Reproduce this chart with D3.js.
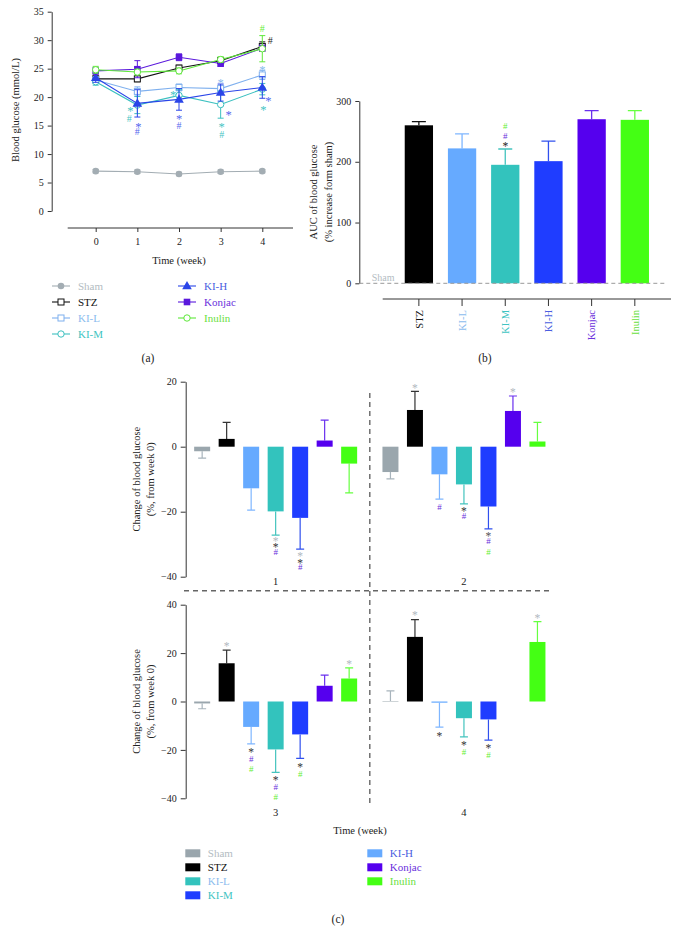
<!DOCTYPE html>
<html><head><meta charset="utf-8">
<script src="https://cdn.jsdelivr.net/npm/d3@7"></script>
<style>body{margin:0;background:#fff} svg, svg text{font-family:"Liberation Serif","DejaVu Serif",serif !important}</style>
</head><body><svg id="c" width="680" height="945"></svg>
<script>
// ---------- DATA ----------
const weeks = [0, 1, 2, 3, 4];
const groupNames = ["Sham", "STZ", "KI-L", "KI-M", "KI-H", "Konjac", "Inulin"];
// panel (a): blood glucose (mmol/L)
const glucoseSham   = [7.0, 6.9, 6.5, 6.9, 7.0];
const glucoseSTZ    = [23.2, 23.2, 25.1, 26.4, 28.9];
const glucoseKIL    = [23.0, 21.0, 21.7, 21.5, 23.9];
const glucoseKIM    = [22.7, 18.6, 20.3, 18.7, 21.4];
const glucoseKIH    = [23.4, 18.9, 19.6, 20.8, 21.7];
const glucoseKonjac = [24.6, 24.9, 27.0, 25.9, 28.6];
const glucoseInulin = [24.8, 24.4, 24.6, 26.6, 28.5];
const semSham   = [0.3, 0.3, 0.3, 0.3, 0.3];
const semSTZ    = [0.5, 0.5, 0.5, 0.5, 0.8];
const semKIL    = [0.6, 0.8, 0.6, 0.6, 0.8];
const semKIM    = [0.6, 1.5, 1.0, 2.4, 1.0];
const semKIH    = [0.8, 2.4, 1.9, 1.5, 1.9];
const semKonjac = [0.6, 1.5, 0.6, 0.5, 0.5];
const semInulin = [0.6, 0.5, 0.5, 0.5, 2.3];
const annotA = [
  {week:1, v:18.0, t:"*", c:"#44c4c4", dx:-7},
  {week:1, v:16.3, t:"#", c:"#44c4c4", dx:-8},
  {week:1, v:15.3, t:"*", c:"#5566ee", dx:1},
  {week:1, v:13.9, t:"#", c:"#5566ee", dx:0},
  {week:2, v:20.8, t:"*", c:"#44c4c4", dx:-6},
  {week:2, v:16.7, t:"*", c:"#5566ee", dx:0},
  {week:2, v:15.1, t:"#", c:"#5566ee", dx:0},
  {week:3, v:23.0, t:"*", c:"#88bbee", dx:0},
  {week:3, v:17.3, t:"*", c:"#5566ee", dx:8},
  {week:3, v:15.3, t:"*", c:"#44c4c4", dx:1},
  {week:3, v:13.5, t:"#", c:"#44c4c4", dx:1},
  {week:4, v:32.0, t:"#", c:"#66ee33", dx:0},
  {week:4, v:29.9, t:"#", c:"#222", dx:8},
  {week:4, v:25.2, t:"*", c:"#88bbee", dx:0},
  {week:4, v:19.8, t:"*", c:"#5566ee", dx:6},
  {week:4, v:18.2, t:"*", c:"#44c4c4", dx:1}
];
// panel (b): AUC
const aucGroups = ["STZ", "KI-L", "KI-M", "KI-H", "Konjac", "Inulin"];
const aucValues = [260, 222, 195, 201, 270, 269];
const aucErr    = [6, 24, 26, 33, 14, 15];
const annotB = [
  {g:"KI-M", v:230, t:"*", c:"#222"},
  {g:"KI-M", v:243, t:"#", c:"#6a30dc"},
  {g:"KI-M", v:259, t:"#", c:"#66ee33"}
];
// panel (c): change from week 0 (%), weeks 1..4
const periods = ["1", "2", "3", "4"];
const changeSham   = [-1.4, -7.8, -0.8, 0.2];
const changeSTZ    = [2.4, 11.3, 15.8, 26.7];
const changeKIL    = [-12.8, -8.5, -10.5, -0.5];
const changeKIM    = [-19.9, -11.6, -19.8, -6.9];
const changeKIH    = [-21.9, -18.4, -13.6, -7.4];
const changeKonjac = [1.9, 11.0, 6.5, null];
const changeInulin = [-5.2, 1.6, 9.5, 24.6];
const errSham   = [2.1, 2.1, 2.2, 4.2];
const errSTZ    = [5.1, 5.7, 5.4, 7.1];
const errKIL    = [6.7, 7.6, 7.0, 10.1];
const errKIM    = [7.3, 6.0, 9.5, 7.7];
const errKIH    = [9.6, 6.9, 9.9, 8.6];
const errKonjac = [6.3, 4.6, 4.4, null];
const errInulin = [9.0, 5.9, 4.4, 8.4];
const annotC = [
  {p:"1", g:"KI-M", v:-28.3, t:"*", c:"#b0b8c0"},
  {p:"1", g:"KI-M", v:-30.2, t:"*", c:"#333"},
  {p:"1", g:"KI-M", v:-32.4, t:"#", c:"#6a30dc"},
  {p:"1", g:"KI-H", v:-32.9, t:"*", c:"#b0b8c0"},
  {p:"1", g:"KI-H", v:-35.0, t:"*", c:"#333"},
  {p:"1", g:"KI-H", v:-37.0, t:"#", c:"#6a30dc"},
  {p:"2", g:"STZ", v:18.8, t:"*", c:"#b0b8c0"},
  {p:"2", g:"KI-L", v:-18.4, t:"#", c:"#6a30dc"},
  {p:"2", g:"KI-M", v:-19.0, t:"*", c:"#333"},
  {p:"2", g:"KI-M", v:-21.2, t:"#", c:"#6a30dc"},
  {p:"2", g:"KI-H", v:-26.8, t:"*", c:"#555"},
  {p:"2", g:"KI-H", v:-29.1, t:"#", c:"#6a30dc"},
  {p:"2", g:"KI-H", v:-32.2, t:"#", c:"#66ee33"},
  {p:"2", g:"Konjac", v:17.7, t:"*", c:"#b0b8c0"},
  {p:"3", g:"STZ", v:23.9, t:"*", c:"#b0b8c0"},
  {p:"3", g:"KI-L", v:-19.8, t:"*", c:"#333"},
  {p:"3", g:"KI-L", v:-23.5, t:"#", c:"#6a30dc"},
  {p:"3", g:"KI-L", v:-27.9, t:"#", c:"#66ee33"},
  {p:"3", g:"KI-M", v:-31.5, t:"*", c:"#333"},
  {p:"3", g:"KI-M", v:-35.4, t:"#", c:"#6a30dc"},
  {p:"3", g:"KI-M", v:-39.6, t:"#", c:"#66ee33"},
  {p:"3", g:"KI-H", v:-26.1, t:"*", c:"#333"},
  {p:"3", g:"KI-H", v:-29.8, t:"#", c:"#66ee33"},
  {p:"3", g:"Inulin", v:16.4, t:"*", c:"#b0b8c0"},
  {p:"4", g:"STZ", v:36.6, t:"*", c:"#b0b8c0"},
  {p:"4", g:"KI-L", v:-13.3, t:"*", c:"#333"},
  {p:"4", g:"KI-M", v:-16.9, t:"*", c:"#333"},
  {p:"4", g:"KI-M", v:-20.6, t:"#", c:"#66ee33"},
  {p:"4", g:"KI-H", v:-18.3, t:"*", c:"#333"},
  {p:"4", g:"KI-H", v:-21.9, t:"#", c:"#66ee33"},
  {p:"4", g:"Inulin", v:35.6, t:"*", c:"#b0b8c0"}
];
const legendCSwatch = ["#9aa6ad", "#000000", "#33c3bd", "#1f3dff", "#66aaff", "#5500ee", "#44ff14"];

// ---------- STYLE ----------
const FONT = "'Liberation Serif', 'DejaVu Serif', serif";
const lineColor = {"Sham":"#a3adb3","STZ":"#111111","KI-L":"#7fb0ee","KI-M":"#3cc0c0","KI-H":"#2a45e8","Konjac":"#5a18dc","Inulin":"#5ee83a"};
const barColor  = {"Sham":"#9aa6ad","STZ":"#000000","KI-L":"#66aaff","KI-M":"#33c3bd","KI-H":"#1f3dff","Konjac":"#5500ee","Inulin":"#44ff14"};
const errColor  = {"Sham":"#a8b4bc","STZ":"#333333","KI-L":"#7fb6ff","KI-M":"#44c4be","KI-H":"#3050ee","Konjac":"#6a30ee","Inulin":"#66ff40"};
const textColor = {"Sham":"#b3bcc2","STZ":"#111111","KI-L":"#8cbcee","KI-M":"#40c4c2","KI-H":"#4a5ee0","Konjac":"#6a30dc","Inulin":"#6ae040"};
const marker = {"Sham":"circleFill","STZ":"squareOpen","KI-L":"squareOpen","KI-M":"circleOpen","KI-H":"triangle","Konjac":"squareFill","Inulin":"circleOpen"};

const svg = d3.select("#c").attr("font-family", FONT);
function styleAxis(g){
  g.attr("font-family", FONT);
  g.selectAll(".domain").attr("stroke","#333").attr("stroke-width",1);
  g.selectAll(".tick line").attr("stroke","#333");
  g.selectAll(".tick text").attr("fill","#222").attr("font-size",10).attr("font-family",FONT);
}
function glyphDy(t){ return t==="*" ? "0.55em" : "0.35em"; }
function glyphSize(t, base){ return t==="*" ? base+2.5 : base; }

// ---------- PANEL A ----------
const seriesA = groupNames.map((n,i)=>({name:n,
  vals:[glucoseSham,glucoseSTZ,glucoseKIL,glucoseKIM,glucoseKIH,glucoseKonjac,glucoseInulin][i],
  sem:[semSham,semSTZ,semKIL,semKIM,semKIH,semKonjac,semInulin][i]}));
const xA = d3.scaleLinear().domain([0,4]).range([95.7,262.3]);
const yA = d3.scaleLinear().domain([0,35]).range([211,11.7]);
const gA = svg.append("g");
gA.append("g").attr("transform","translate(51.7,0)")
  .call(d3.axisLeft(yA).tickValues(d3.range(0,36,5)).tickFormat(d3.format("d")).tickSize(4).tickSizeOuter(0).tickPadding(4)).call(styleAxis);
const axXA = gA.append("g").attr("transform","translate(0,228)")
  .call(d3.axisBottom(xA).tickValues(weeks).tickFormat(d3.format("d")).tickSize(4).tickSizeOuter(0).tickPadding(6)).call(styleAxis);
axXA.select(".domain").attr("d","M67.7,0H293");
gA.append("text").attr("transform","translate(18.5,110) rotate(-90)").attr("text-anchor","middle")
  .attr("font-size",10.5).attr("fill","#222").text("Blood glucose (mmol/L)");
gA.append("text").attr("x",179).attr("y",264).attr("text-anchor","middle").attr("font-size",10.5).attr("fill","#222").text("Time (week)");

function drawMarker(sel, type, color, x, y){
  if(type==="circleFill") sel.append("circle").attr("cx",x).attr("cy",y).attr("r",3.3).attr("fill",color);
  else if(type==="circleOpen") sel.append("circle").attr("cx",x).attr("cy",y).attr("r",3.2).attr("fill","#fff").attr("stroke",color).attr("stroke-width",1);
  else if(type==="squareOpen") sel.append("rect").attr("x",x-3).attr("y",y-3).attr("width",6).attr("height",6).attr("fill","#fff").attr("stroke",color).attr("stroke-width",1);
  else if(type==="squareFill") sel.append("rect").attr("x",x-3.3).attr("y",y-3.3).attr("width",6.6).attr("height",6.6).attr("fill",color);
  else if(type==="triangle") sel.append("path").attr("transform",`translate(${x},${y+0.5})`).attr("d",d3.symbol(d3.symbolTriangle,40)()).attr("fill",color);
}
const lineA = d3.line().x((d,i)=>xA(weeks[i])).y(d=>yA(d));
seriesA.forEach(s=>{
  const g = gA.append("g");
  s.vals.forEach((v,i)=>{
    const x=xA(weeks[i]), y1=yA(v+s.sem[i]), y0=yA(v-s.sem[i]);
    g.append("path").attr("d",`M${x},${y0}V${y1}M${x-3},${y1}H${x+3}M${x-3},${y0}H${x+3}`)
      .attr("stroke",lineColor[s.name]).attr("stroke-width",1).attr("fill","none");
  });
  g.append("path").attr("d",lineA(s.vals)).attr("fill","none").attr("stroke",lineColor[s.name]).attr("stroke-width",1.1);
  s.vals.forEach((v,i)=>drawMarker(g, marker[s.name], lineColor[s.name], xA(weeks[i]), yA(v)));
});
gA.selectAll("text.annA").data(annotA).join("text").attr("class","annA")
  .attr("x",d=>xA(d.week)+d.dx).attr("y",d=>yA(d.v)).attr("dy",d=>glyphDy(d.t))
  .attr("text-anchor","middle").attr("font-size",d=>glyphSize(d.t,10)).attr("fill",d=>d.c).text(d=>d.t);
// legend A
const legA = gA.append("g");
groupNames.forEach((n,i)=>{
  const col = i<4 ? 0 : 1, row = i<4 ? i : i-4;
  const x0 = col===0 ? 52 : 178, y0 = 286 + row*16;
  legA.append("line").attr("x1",x0).attr("x2",x0+18).attr("y1",y0).attr("y2",y0).attr("stroke",lineColor[n]).attr("stroke-width",1.1);
  drawMarker(legA, marker[n], lineColor[n], x0+9, y0);
  legA.append("text").attr("x",x0+26).attr("y",y0+4).attr("font-size",11).attr("fill",textColor[n]).text(n);
});
svg.append("text").attr("x",148).attr("y",361.5).attr("text-anchor","middle").attr("font-size",11.5).attr("fill","#222").text("(a)");

// ---------- PANEL B ----------
const gB = svg.append("g");
const xB = d3.scaleBand().domain(aucGroups).range([382.7,671]).paddingInner(0.345).paddingOuter(0.51);
const yB = d3.scaleLinear().domain([0,300]).range([283.3,101]);
gB.append("g").attr("transform","translate(359.3,0)")
  .call(d3.axisLeft(yB).tickValues([0,100,200,300]).tickSize(4).tickSizeOuter(0).tickPadding(4)).call(styleAxis);
const axXB = gB.append("g").attr("transform","translate(0,299)")
  .call(d3.axisBottom(xB).tickSize(7).tickSizeOuter(0)).call(styleAxis);
axXB.select(".domain").attr("d","M382.7,0H671");
axXB.selectAll(".tick text").attr("transform","rotate(-90)").attr("x",-11).attr("y",0).attr("dy","0.35em")
  .attr("text-anchor","end").attr("font-size",10.5).attr("fill",d=>textColor[d]);
aucGroups.forEach((g,i)=>{
  const x=xB(g), w=xB.bandwidth(), cx=x+w/2;
  gB.append("path").attr("d",`M${cx},${yB(aucValues[i])}V${yB(aucValues[i]+aucErr[i])}M${cx-7},${yB(aucValues[i]+aucErr[i])}H${cx+7}`)
    .attr("stroke",errColor[g]==="#333333"?"#111":errColor[g]).attr("stroke-width",1.3).attr("fill","none");
  gB.append("rect").attr("x",x).attr("y",yB(aucValues[i])).attr("width",w).attr("height",yB(0)-yB(aucValues[i])).attr("fill",barColor[g]);
});
gB.append("line").attr("x1",359.3).attr("x2",667).attr("y1",yB(0)).attr("y2",yB(0))
  .attr("stroke","#999").attr("stroke-dasharray","4,3").attr("stroke-width",1);
gB.append("text").attr("x",371.7).attr("y",280.5).attr("font-size",10).attr("fill","#b3bcc2").text("Sham");
gB.selectAll("text.annB").data(annotB).join("text").attr("class","annB")
  .attr("x",d=>xB(d.g)+xB.bandwidth()/2).attr("y",d=>yB(d.v)).attr("dy",d=>glyphDy(d.t))
  .attr("text-anchor","middle").attr("font-size",d=>glyphSize(d.t,9)).attr("fill",d=>d.c).text(d=>d.t);
const ylB = gB.append("text").attr("transform","translate(0,192) rotate(-90)").attr("text-anchor","middle").attr("font-size",10.5).attr("fill","#222");
ylB.append("tspan").attr("x",0).attr("y",317).text("AUC of blood glucose");
ylB.append("tspan").attr("x",0).attr("y",332).text("(% increase form sham)");
svg.append("text").attr("x",485).attr("y",361.5).attr("text-anchor","middle").attr("font-size",11.5).attr("fill","#222").text("(b)");

// ---------- PANEL C ----------
const gC = svg.append("g");
const changeAll = [changeSham,changeSTZ,changeKIL,changeKIM,changeKIH,changeKonjac,changeInulin];
const errAll = [errSham,errSTZ,errKIL,errKIM,errKIH,errKonjac,errInulin];
const xP = d3.scaleBand().domain(["1","2"]).range([181.5,558.1]);
const xP2 = d3.scaleBand().domain(["3","4"]).range([181.5,558.1]);
const xG = d3.scaleBand().domain(groupNames).range([0,xP.bandwidth()]).paddingInner(0.347).paddingOuter(0.5165);
const yTop = d3.scaleLinear().domain([-40,20]).range([576.7,381.7]);
const yBot = d3.scaleLinear().domain([-40,40]).range([798.3,604.7]);
const panels = [
  {ps:["1","2"], xs:xP, y:yTop, ticks:[-40,-20,0,20], labY:585},
  {ps:["3","4"], xs:xP2, y:yBot, ticks:[-40,-20,0,20,40], labY:815.5}
];
panels.forEach(P=>{
  const g = gC.append("g");
  g.append("g").attr("transform","translate(185.7,0)")
    .call(d3.axisLeft(P.y).tickValues(P.ticks).tickSize(5).tickSizeOuter(0).tickPadding(4)).call(styleAxis);
  P.ps.forEach(p=>{
    const pi = periods.indexOf(p);
    groupNames.forEach((n,gi)=>{
      const v = changeAll[gi][pi], e = errAll[gi][pi];
      if(v===null) return;
      const x = P.xs(p)+xG(n), w = xG.bandwidth(), cx = x+w/2;
      const s = v>=0 ? 1 : -1;
      g.append("path").attr("d",`M${cx},${P.y(v)}V${P.y(v+s*e)}M${cx-4},${P.y(v+s*e)}H${cx+4}`)
        .attr("stroke",errColor[n]).attr("stroke-width",1.2).attr("fill","none");
      g.append("rect").attr("x",x).attr("y",P.y(Math.max(0,v))).attr("width",w).attr("height",Math.abs(P.y(v)-P.y(0)))
        .attr("fill",barColor[n]);
    });
    g.append("text").attr("x",P.xs(p)+P.xs.bandwidth()/2).attr("y",P.labY).attr("text-anchor","middle")
      .attr("font-size",10.5).attr("fill","#222").text(p);
  });
  g.selectAll("text.annC").data(annotC.filter(d=>P.ps.includes(d.p))).join("text").attr("class","annC")
    .attr("x",d=>P.xs(d.p)+xG(d.g)+xG.bandwidth()/2).attr("y",d=>P.y(d.v)).attr("dy",d=>glyphDy(d.t))
    .attr("text-anchor","middle").attr("font-size",d=>glyphSize(d.t,9)).attr("fill",d=>d.c).text(d=>d.t);
  const yl = g.append("text").attr("transform",`translate(0,${(P.y.range()[0]+P.y.range()[1])/2}) rotate(-90)`)
    .attr("text-anchor","middle").attr("font-size",10.5).attr("fill","#222");
  yl.append("tspan").attr("x",0).attr("y",140).text("Change of blood glucose");
  yl.append("tspan").attr("x",0).attr("y",154).text("(%, from week 0)");
});
// separators
gC.append("line").attr("x1",xP("2")).attr("x2",xP("2")).attr("y1",393).attr("y2",807)
  .attr("stroke","#666").attr("stroke-width",1.4).attr("stroke-dasharray","5,4");
gC.append("line").attr("x1",184).attr("x2",550).attr("y1",590.7).attr("y2",590.7)
  .attr("stroke","#666").attr("stroke-width",1.4).attr("stroke-dasharray","5,4");
gC.append("text").attr("x",360).attr("y",834).attr("text-anchor","middle").attr("font-size",10.5).attr("fill","#222").text("Time (week)");
// legend C
groupNames.forEach((n,i)=>{
  const col = i<4 ? 0 : 1, row = i<4 ? i : i-4;
  const x0 = col===0 ? 185.3 : 367.3, y0 = 853.3 + row*14;
  gC.append("rect").attr("x",x0).attr("y",y0-4).attr("width",15).attr("height",8).attr("fill",legendCSwatch[i]);
  gC.append("text").attr("x",x0+22.5).attr("y",y0+4).attr("font-size",11).attr("fill",textColor[n]).text(n);
});
svg.append("text").attr("x",338).attr("y",923).attr("text-anchor","middle").attr("font-size",11.5).attr("fill","#222").text("(c)");
</script></body></html>
